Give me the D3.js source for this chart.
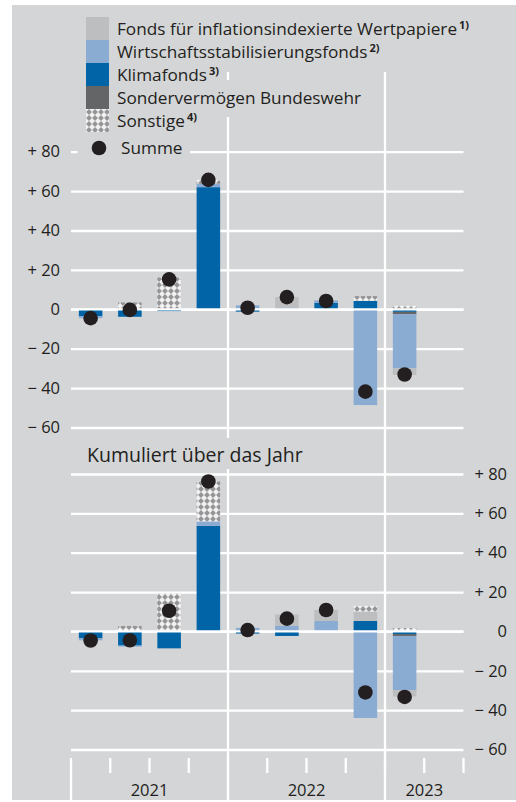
<!DOCTYPE html>
<html>
<head>
<meta charset="utf-8">
<script src="https://cdnjs.cloudflare.com/ajax/libs/d3/7.8.5/d3.min.js"></script>
<style>
  body { margin: 0; background: #fff; }
  svg { display: block; font-family: "Open Sans", sans-serif; }
</style>
</head>
<body>
<div id="chart"></div>
<script>
const BG = "#d4d5d7";
const WHITE = "#fff";
const INFL_GREY = "#bdbec0";
const WSF_BLUE = "#8aabd2";
const KLIMA_BLUE = "#0064a7";
const SVB_GREY = "#646567";
const DOT = "#231f20";
const TEXT = "#231f20";

// categories
const quarters = ["2021 Q1", "2021 Q2", "2021 Q3", "2021 Q4", "2022 Q1", "2022 Q2", "2022 Q3", "2022 Q4", "2023 Q1", "2023 Q2"];
const years = ["2021", "2022", "2023"];
const quartersPerYear = [4, 4, 2];
const yTicks = [-60, -40, -20, 0, 20, 40, 60, 80];

// stack order (from zero outwards) and legend order
const stackKeys = ["klima", "svb", "wsf", "infl", "sonst"];
const legendKeys = ["infl", "wsf", "klima", "svb", "sonst"];
const legendLabels = ["Fonds für inflationsindexierte Wertpapiere", "Wirtschaftsstabilisierungsfonds", "Klimafonds", "Sondervermögen Bundeswehr", "Sonstige"];
const legendNotes = ["1)", "2)", "3)", "", "4)"];

// quarterly values (top panel), bn €
const klimaQ = [-3.4, -3.8, -0.9, 62.0, -1.2, 0, 3.3, 4.3, -1.3];
const svbQ   = [0, 0, 0, 0, 0, 0, 0, 0, -1.2];
const wsfQ   = [-1.1, 0, 0, 1.7, 2.0, 0.8, 1.2, -48.6, -27.5];
const inflQ  = [0, 0, 0, 0, 0, 5.4, 0, 0, -3.3];
const sonstQ = [0, 3.5, 16.2, 2.0, 0, 0, 0, 2.4, 1.8];
const sumQ   = [-4.5, -0.3, 15.2, 65.7, 0.8, 6.2, 4.2, -41.8, -33.1];

// cumulated over the year (bottom panel)
const klimaC = [-3.5, -7.2, -8.6, 53.7, -1.1, -2.3, 0, 5.3, -1.3];
const svbC   = [0, 0, 0, 0, 0, 0, 0, 0, -1.0];
const wsfC   = [-1.0, -0.5, 0, 2.2, 1.8, 2.9, 5.3, -44.0, -27.5];
const inflC  = [0, 0, 0, 0, 0, 5.7, 5.6, 4.8, -3.3];
const sonstC = [0, 2.8, 19.2, 20.3, 0, 0, 0, 2.9, 1.7];
const sumC   = [-4.6, -4.5, 10.5, 76.2, 0.7, 6.5, 10.9, -31.0, -33.3];

var fills = {
  "infl": INFL_GREY,
  "wsf": WSF_BLUE,
  "klima": KLIMA_BLUE,
  "svb": SVB_GREY,
  "sonst": "url(#hatch)"
};

var svg = d3.select("#chart").append("svg")
  .attr("width", 516)
  .attr("height", 802);

var x = d3.scaleBand().domain(quarters).range([71, 463.5]);
var bw = x.bandwidth();
var yTop = d3.scaleLinear().domain([-60, 80]).range([427.5, 151.7]);
var yBot = d3.scaleLinear().domain([-60, 80]).range([749.5, 474]);

function tickLabel(d) {
  if (d > 0) return "+ " + d;
  if (d < 0) return "\u2212 " + Math.abs(d);
  return "0";
}

function buildRows(klima, svb, wsf, infl, sonst, sum) {
  return klima.map(function(v, i) {
    return {q: quarters[i], klima: v, svb: svb[i], wsf: wsf[i], infl: infl[i], sonst: sonst[i], sum: sum[i]};
  });
}

function drawBackground() {
  svg.append("rect")
    .attr("x", 12).attr("y", 5)
    .attr("width", 504).attr("height", 795)
    .attr("fill", BG);

  var pat = svg.append("defs").append("pattern")
    .attr("id", "hatch")
    .attr("patternUnits", "userSpaceOnUse")
    .attr("width", 6).attr("height", 6);
  pat.append("rect").attr("width", 6).attr("height", 6).attr("fill", "#f1f1f1");
  pat.append("path").attr("d", "M3,0.1L5.9,3L3,5.9L0.1,3Z").attr("fill", "#959597");

  // year separators run through both panels
  var seps = [quarters[4], quarters[8]];
  svg.selectAll(".sep").data(seps).enter().append("line")
    .attr("class", "sep")
    .attr("x1", d => x(d)).attr("x2", d => x(d))
    .attr("y1", 72).attr("y2", 800)
    .attr("stroke", WHITE).attr("stroke-width", 2.3);
}

function drawPanel(rows, y, side) {
  var g = svg.append("g");

  var axisG = g.append("g");
  if (side == "left") {
    axisG.attr("transform", "translate(" + x.range()[1] + ",0)")
      .call(d3.axisLeft(y).tickValues(yTicks).tickSize(x.range()[1] - x.range()[0]).tickPadding(11).tickFormat(tickLabel));
  } else {
    axisG.attr("transform", "translate(" + x.range()[0] + ",0)")
      .call(d3.axisRight(y).tickValues(yTicks).tickSize(x.range()[1] - x.range()[0]).tickFormat(tickLabel));
    axisG.selectAll("text").attr("x", 507 - x.range()[0]).attr("text-anchor", "end");
  }
  axisG.select(".domain").remove();
  axisG.selectAll("line").attr("stroke", WHITE).attr("stroke-width", 2.3);
  axisG.selectAll("text")
    .attr("fill", TEXT)
    .style("font-size", "16.5px")
    .style("font-family", "Open Sans");

  var stacked = d3.stack().keys(stackKeys).offset(d3.stackOffsetDiverging)(rows);
  g.selectAll(".layer")
    .data(stacked)
    .enter().append("g")
    .attr("class", "layer")
    .attr("fill", d => fills[d.key])
    .selectAll("rect")
    .data(d => d)
    .enter().append("rect")
    .attr("x", d => x(d.data.q) + bw * 0.2)
    .attr("width", bw * 0.6)
    .attr("y", d => y(d[1]))
    .attr("height", d => y(d[0]) - y(d[1]));

  // zero line sits on top of the bars
  g.append("line")
    .attr("x1", x.range()[0]).attr("x2", x.range()[1])
    .attr("y1", y(0)).attr("y2", y(0))
    .attr("stroke", WHITE).attr("stroke-width", 2.3);

  g.selectAll(".dot")
    .data(rows)
    .enter().append("circle")
    .attr("class", "dot")
    .attr("cx", d => x(d.q) + bw / 2)
    .attr("cy", d => y(d.sum))
    .attr("r", 7.3)
    .attr("fill", DOT);
}

function drawLegend() {
  var lg = svg.append("g");
  // knock-outs behind labels that cross the white lines
  lg.append("rect").attr("x", 113).attr("y", 80).attr("width", 253).attr("height", 37).attr("fill", BG);
  lg.append("rect").attr("x", 77.5).attr("y", 138).attr("width", 112.5).attr("height", 22).attr("fill", BG);

  var items = lg.selectAll(".item")
    .data(legendKeys)
    .enter().append("g")
    .attr("class", "item")
    .attr("transform", (d, i) => "translate(86," + (17 + i * 23) + ")");
  items.append("rect")
    .attr("width", 23).attr("height", 23)
    .attr("fill", d => fills[d]);
  var t = items.append("text")
    .attr("x", 31).attr("y", 18)
    .attr("fill", TEXT)
    .style("font-size", "17.2px");
  t.append("tspan").text((d, i) => legendLabels[i]);
  t.append("tspan")
    .attr("dx", 2).attr("dy", -6)
    .style("font-size", "11px")
    .style("font-weight", "bold")
    .text((d, i) => legendNotes[i]);

  lg.append("circle").attr("cx", 99).attr("cy", 148).attr("r", 7.3).attr("fill", DOT);
  lg.append("text")
    .attr("x", 121).attr("y", 154)
    .attr("fill", TEXT)
    .style("font-size", "17.2px")
    .text("Summe");
}

function drawTitle() {
  svg.append("rect").attr("x", 80).attr("y", 438).attr("width", 235).attr("height", 31).attr("fill", BG);
  svg.append("text")
    .attr("x", 87).attr("y", 462)
    .attr("fill", TEXT)
    .style("font-size", "19.5px")
    .text("Kumuliert über das Jahr");
}

function drawXAxis() {
  var bounds = quarters.map((q, i) => ({x: x(q), major: i % 4 == 0 && i < 8}));
  bounds.push({x: x.range()[1], major: false});
  svg.selectAll(".xtick")
    .data(bounds)
    .enter().append("line")
    .attr("class", "xtick")
    .attr("x1", d => d.x).attr("x2", d => d.x)
    .attr("y1", 758).attr("y2", d => d.major ? 800 : 773)
    .attr("stroke", WHITE).attr("stroke-width", 2.3);

  var start = 0;
  var yearPos = years.map(function(yr, i) {
    var x0 = x(quarters[start]);
    var x1 = x(quarters[start]) + bw * quartersPerYear[i];
    start += quartersPerYear[i];
    return {label: yr, cx: (x0 + x1) / 2};
  });
  svg.selectAll(".year")
    .data(yearPos)
    .enter().append("text")
    .attr("class", "year")
    .attr("x", d => d.cx).attr("y", 796)
    .attr("text-anchor", "middle")
    .attr("fill", TEXT)
    .style("font-size", "16.5px")
    .text(d => d.label);
}

function main() {
  drawBackground();
  drawPanel(buildRows(klimaQ, svbQ, wsfQ, inflQ, sonstQ, sumQ), yTop, "left");
  drawPanel(buildRows(klimaC, svbC, wsfC, inflC, sonstC, sumC), yBot, "right");
  drawLegend();
  drawTitle();
  drawXAxis();
}

main();
</script>
</body>
</html>
